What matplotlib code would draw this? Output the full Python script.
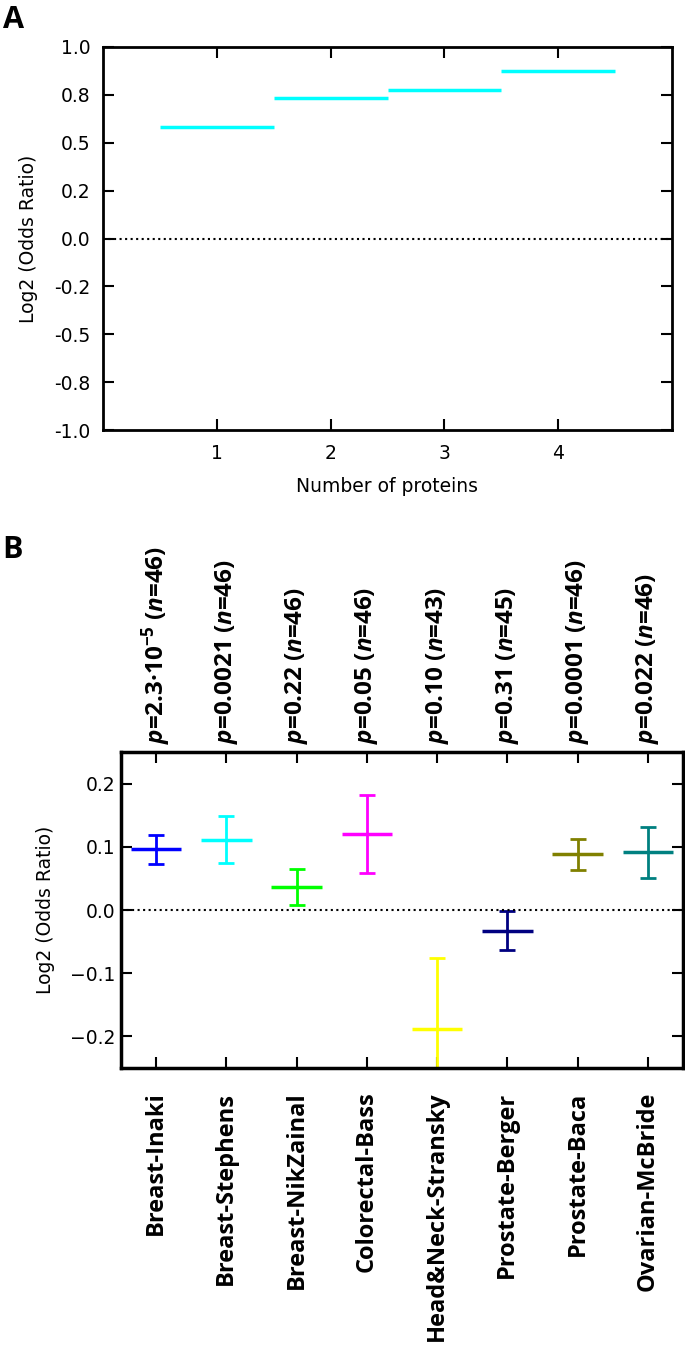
import numpy as np
import matplotlib
matplotlib.use('Agg')
import matplotlib.pyplot as plt

# panel A
n_proteins = [1, 2, 3, 4]
log2_or_a = [0.581, 0.735, 0.776, 0.873]

# panel B
datasets = ['Breast-Inaki', 'Breast-Stephens', 'Breast-NikZainal', 'Colorectal-Bass',
            'Head&Neck-Stransky', 'Prostate-Berger', 'Prostate-Baca', 'Ovarian-McBride']
log2_or_b = [0.096, 0.111, 0.0365, 0.120, -0.188, -0.033, 0.088, 0.091]
err_b = [0.023, 0.037, 0.029, 0.062, 0.112, 0.031, 0.024, 0.040]
p_labels = [r'$p$=2.3·10$^{-5}$ ($n$=46)', r'$p$=0.0021 ($n$=46)', r'$p$=0.22 ($n$=46)',
            r'$p$=0.05 ($n$=46)', r'$p$=0.10 ($n$=43)', r'$p$=0.31 ($n$=45)',
            r'$p$=0.0001 ($n$=46)', r'$p$=0.022 ($n$=46)']
colors_b = ['blue', 'cyan', 'lime', 'magenta', 'yellow', 'navy', 'olive', 'teal']

plt.rcParams['mathtext.fontset'] = 'custom'
plt.rcParams['mathtext.it'] = 'Open Sans:italic:bold'
plt.rcParams['mathtext.rm'] = 'Open Sans:bold'
plt.rcParams['mathtext.bf'] = 'Open Sans:bold'

fig = plt.figure(figsize=(6.85, 13.5), dpi=100)

# ---- A ----
ax1 = fig.add_axes([103/685, 1 - 430/1350, 569/685, 383/1350])
ax1.hlines(log2_or_a, np.array(n_proteins) - 0.5, np.array(n_proteins) + 0.5,
           color='cyan', lw=2.5)
ax1.axhline(0, color='black', ls=':', lw=1.5)
ax1.set_xlim(0, 5)
ax1.set_ylim(-1, 1)
ax1.set_xticks(n_proteins)
ax1.set_yticks(np.arange(-1, 1.01, 0.25))
ax1.set_yticklabels(['%.1f' % v for v in np.arange(-1, 1.01, 0.25)])
ax1.tick_params(direction='in', length=8, width=1.5, top=True, right=True,
                labelsize=13.5, pad=9)
ax1.tick_params(axis='x', pad=10)
ax1.set_xlabel('Number of proteins', fontsize=13.5, labelpad=10)
ax1.set_ylabel('Log2 (Odds Ratio)', fontsize=13.5, labelpad=12)
for s in ax1.spines.values():
    s.set_linewidth(2)

# ---- B ----
ax2 = fig.add_axes([121/685, 1 - 1068/1350, 562/685, 316/1350])
xpos = np.arange(1, len(datasets) + 1)
for i in range(len(datasets)):
    ax2.errorbar(xpos[i], log2_or_b[i], yerr=err_b[i], color=colors_b[i],
                 lw=2, capsize=6, capthick=2)
    ax2.hlines(log2_or_b[i], xpos[i] - 0.36, xpos[i] + 0.36, color=colors_b[i], lw=2.5)
ax2.axhline(0, color='black', ls=':', lw=1.5)
ax2.set_xlim(0.5, len(datasets) + 0.5)
ax2.set_ylim(-0.25, 0.25)
ax2.set_yticks([-0.2, -0.1, 0.0, 0.1, 0.2])
ax2.set_xticks(xpos)
ax2.tick_params(direction='in', length=8, width=1.5, top=True, right=True,
                labelsize=13.5, pad=4)
ax2.tick_params(axis='x', pad=17)
ax2.set_xticklabels(datasets, rotation=90, fontsize=17, fontweight='bold',
                    family='Open Sans', va='top')
ax2.set_ylabel('Log2 (Odds Ratio)', fontsize=13.5, labelpad=11)
for s in ax2.spines.values():
    s.set_linewidth(2.5)
for i in range(len(datasets)):
    ax2.annotate(p_labels[i], xy=(xpos[i], 1), xycoords=('data', 'axes fraction'),
                 xytext=(0, 6), textcoords='offset points', rotation=90,
                 ha='center', va='bottom', fontsize=17.5, fontweight='bold',
                 family='Open Sans')

fig.text(0.004, 1 - 28/1350, 'A', fontsize=22, fontweight='bold', family='Open Sans',
         va='baseline')
fig.text(0.004, 1 - 558/1350, 'B', fontsize=22, fontweight='bold', family='Open Sans',
         va='baseline')

fig.savefig('out.png', dpi=100)
